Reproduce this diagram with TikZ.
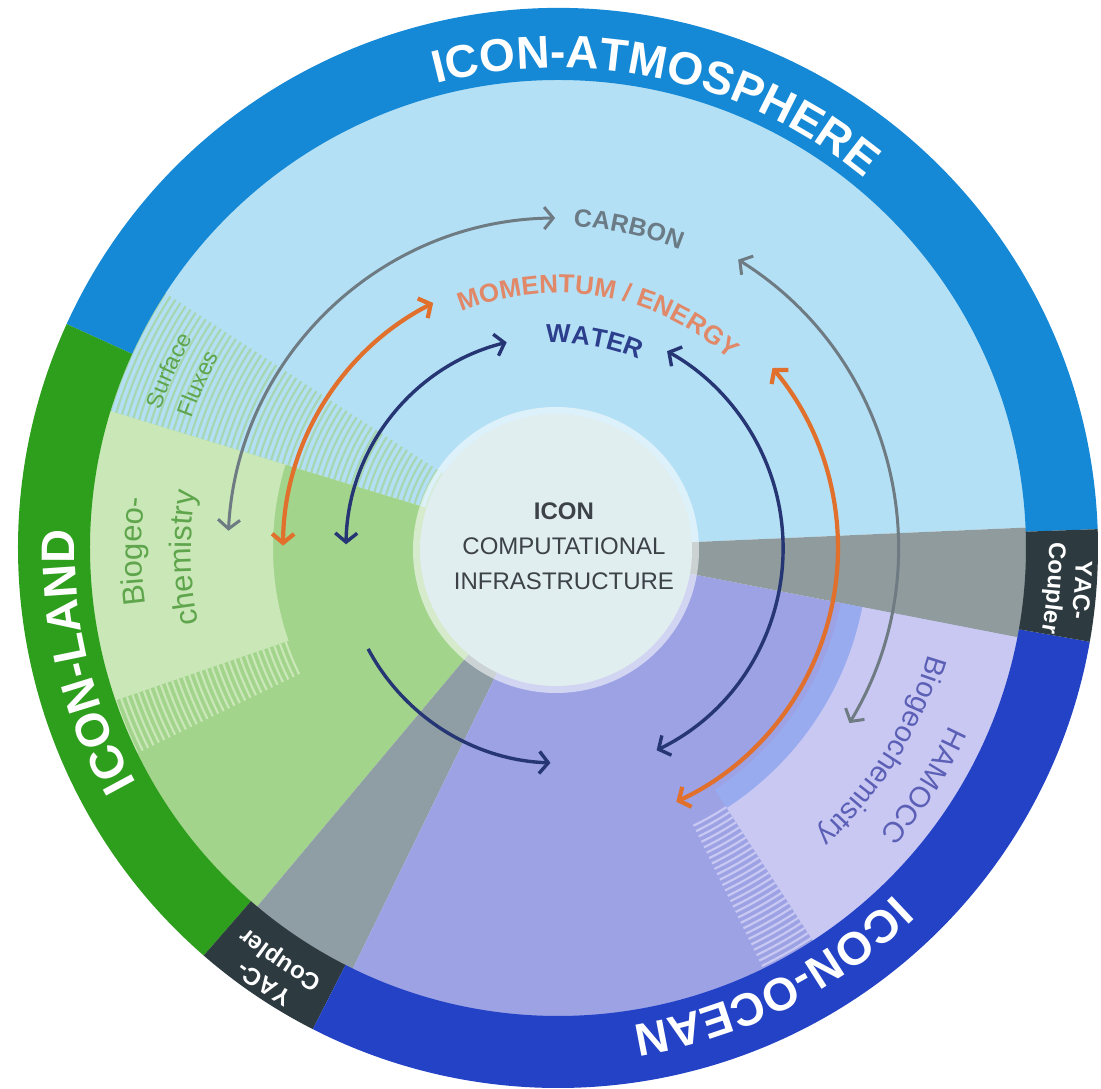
\documentclass[tikz,border=0pt]{standalone}
\usepackage{fontspec}
\setmainfont{Liberation Sans}
\usetikzlibrary{decorations.text,arrows.meta}
\definecolor{ringAtm}{HTML}{1589D6}
\definecolor{ringLand}{HTML}{2E9F1C}
\definecolor{ringOcean}{HTML}{2342C6}
\definecolor{ringYac}{HTML}{2D3A40}
\definecolor{atmLight}{HTML}{B4E0F6}
\definecolor{landLight}{HTML}{C9E7B7}
\definecolor{landMid}{HTML}{A2D48C}
\definecolor{oceanMid}{HTML}{9CA2E4}
\definecolor{hamocc}{HTML}{C9C8F3}
\definecolor{hamBand}{HTML}{98ABEF}
\definecolor{coupGray}{HTML}{8E9EA4}
\definecolor{rightGray}{HTML}{8F9B9D}
\definecolor{innerC}{HTML}{E1EEF0}
\definecolor{stripeGreen}{HTML}{A6D6B2}
\definecolor{arrGray}{HTML}{6E7B82}
\definecolor{arrOrange}{HTML}{E0702C}
\definecolor{arrNavy}{HTML}{263573}
\definecolor{txtCarbon}{HTML}{6B7B85}
\definecolor{txtMoment}{HTML}{E08868}
\definecolor{txtWater}{HTML}{2C3F8C}
\definecolor{txtGreen}{HTML}{5EA54C}
\definecolor{txtHam}{HTML}{5B5FB5}
\definecolor{txtCore}{HTML}{3C4248}
\newcommand\AnnSector[5]{\fill[#1] (#2:#4) arc[start angle=#2,end angle=#3,radius=#4] -- (#3:#5) arc[start angle=#3,end angle=#2,radius=#5] -- cycle;}
\newcommand\ArcStripes[6]{\foreach \rr in {#4,#5,...,#6} {\draw[#1,line width=2.2pt] (#2:\rr) arc[start angle=#2,end angle=#3,radius=\rr];}}
\newcommand\ArcLabel[7]{\path[decorate,decoration={text along path,text align=center,text color=#5,text={|\fontsize{#4}{#4}\selectfont#6|#7}}] (#1+#3:#2) arc[start angle=#1+#3,end angle=#1-#3,radius=#2];}
\tikzset{
  grayflow/.style={draw=arrGray,line width=3pt,>={Straight Barb[length=9pt,width=22pt,line width=3pt]}},
  orangeflow/.style={draw=arrOrange,line width=4.2pt,>={Straight Barb[length=9pt,width=22pt,line width=4.2pt]}},
  navyflow/.style={draw=arrNavy,line width=3.4pt,>={Straight Barb[length=9pt,width=22pt,line width=3.4pt]}},
  coretext/.style={align=center,text=txtCore,font=\fontsize{24}{35}\selectfont}
}
\begin{document}
\begin{tikzpicture}[x=1pt,y=1pt]
\fill[white] (-558,-541) rectangle (543,548);
\useasboundingbox (-558,-541) rectangle (543,548);
% inner sectors
\AnnSector{atmLight}{2.5}{163}{100}{470}
\ArcStripes{stripeGreen}{147}{163}{138}{144}{468}
\AnnSector{landMid}{163}{230}{100}{470}
\AnnSector{landLight}{163}{199}{285}{470}
\ArcStripes{landLight}{199}{206}{288}{294}{468}
\AnnSector{coupGray}{230}{244}{100}{470}
\AnnSector{oceanMid}{244}{349}{100}{470}
\AnnSector{rightGray}{349}{362.5}{100}{470}
\AnnSector{hamBand}{303}{349}{288}{311}
\AnnSector{hamocc}{303}{349}{310}{470}
\ArcStripes{hamocc}{296}{303}{309}{315}{468}
% outer ring
\AnnSector{ringAtm}{2}{155.5}{468}{540}
\AnnSector{ringLand}{155.5}{229}{468}{540}
\AnnSector{ringYac}{229}{243}{468}{540}
\AnnSector{ringOcean}{243}{350}{468}{540}
\AnnSector{ringYac}{350}{362}{468}{540}
% core
\fill[white,opacity=0.55] (-2,-2) circle[radius=143];
\node (core) [circle,fill=innerC,minimum size=272pt,inner sep=0pt] at (-2,-2) {};
\node (coretxt) [coretext] at (6,2) {\textbf{ICON}\\COMPUTATIONAL\\INFRASTRUCTURE};
% arrows
\coordinate (gL) at (177:330);
\draw[grayflow,<->] (gL) arc[start angle=177,end angle=90.5,radius=330];
\coordinate (gR) at (-31:340);
\draw[grayflow,<->] (gR) arc[start angle=-31,end angle=58,radius=340];
\coordinate (oL) at (179.5:275);
\draw[orangeflow,<->] (oL) arc[start angle=179.5,end angle=117,radius=275];
\coordinate (oR) at (-65:280);
\draw[orangeflow,<->] (oR) arc[start angle=-65,end angle=40,radius=280];
\coordinate (nL) at (179:212);
\draw[navyflow,<->] (nL) arc[start angle=179,end angle=104,radius=212];
\coordinate (nR) at (-64:225);
\draw[navyflow,<->] (nR) arc[start angle=-64,end angle=61,radius=225];
\coordinate (nB) at (208:215);
\draw[navyflow,->] (nB) arc[start angle=208,end angle=268,radius=215];
% ring labels
\ArcLabel{77.5}{480}{70}{46}{white}{\bfseries}{ICON-ATMOSPHERE}
\ArcLabel{193.5}{483}{50}{47}{white}{\bfseries}{ICON-LAND}
\ArcLabel{-63.5}{483}{50}{46}{white}{\bfseries}{ICON-OCEAN}
\ArcLabel{-4.6}{518}{30}{24}{white}{\bfseries}{YAC-}
\ArcLabel{-4.6}{491}{30}{24}{white}{\bfseries}{Coupler}
\ArcLabel{236}{518}{30}{24}{white}{\bfseries}{YAC-}
\ArcLabel{236}{491}{30}{24}{white}{\bfseries}{Coupler}
% flux labels
\ArcLabel{77.5}{322}{40}{25}{txtCarbon}{\bfseries}{CARBON}
\ArcLabel{80}{255}{70}{26}{txtMoment}{\bfseries}{MOMENTUM / ENERGY}
\ArcLabel{80}{205}{40}{26}{txtWater}{\bfseries}{WATER}
% component labels
\ArcLabel{155.5}{421}{30}{23}{txtGreen}{}{Surface}
\ArcLabel{155.5}{389}{30}{23}{txtGreen}{}{Fluxes}
\ArcLabel{180.5}{416}{40}{31}{txtGreen}{}{Biogeo-}
\ArcLabel{181.5}{367}{40}{31}{txtGreen}{}{chemistry}
\ArcLabel{-33}{430}{40}{29}{txtHam}{}{HAMOCC}
\ArcLabel{-32}{385}{45}{29}{txtHam}{}{Biogeochemistry}
\end{tikzpicture}
\end{document}
